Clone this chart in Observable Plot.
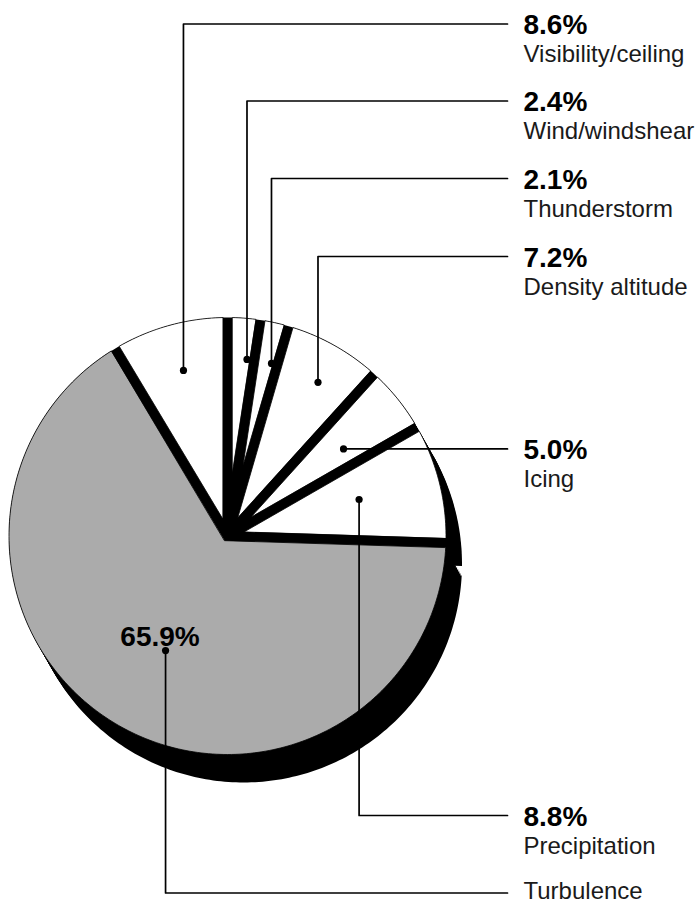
<!DOCTYPE html>
<html><head><meta charset="utf-8">
<script src="https://cdn.jsdelivr.net/npm/d3@7"></script>
<script src="https://cdn.jsdelivr.net/npm/@observablehq/plot@0.6"></script>
<style>
html,body{margin:0;padding:0;background:#fff;}
#chart{width:698px;height:903px;}
</style></head><body><div id="chart"></div>
<script>
// ---- data ----
const categories = ["Visibility/ceiling","Wind/windshear","Thunderstorm","Density altitude","Icing","Precipitation","Turbulence"];
const percents = [8.6, 2.4, 2.1, 7.2, 5.0, 8.8, 65.9];
const percentLabels = ["8.6%","2.4%","2.1%","7.2%","5.0%","8.8%","65.9%"];

// ---- layout / style ----
const W = 698, H = 903;
const CX = 227, CY = 535.5, R = 218.5, PAD = 9.5, SHADOW_DX = 16, SHADOW_DY = 28, SHADOW_STEPS = 14;
const sliceFills = ["#ffffff","#ffffff","#ffffff","#ffffff","#ffffff","#ffffff","#ababab"];
const rowY = [23.5, 100.5, 178, 256, null, 815, 892.5];      // label leader rows (null = follow dot)
const dotPolar = [[-14.9,0.784],[6.3,0.813],[14.3,0.815],[30.5,0.816],[53.1,0.664],[74.5,0.625],[208.4,0.596]];
const outsidePercent = [true,true,true,true,true,true,false];
const lineEndX = 507, textX = 523;
const FONT = "'Liberation Sans', Arial, Helvetica, sans-serif";

// ---- geometry from values ----
const total = d3.sum(percents);
const rad = d => d * Math.PI / 180;
const pt = (a, r, ox = 0, oy = 0) => ({x: CX + ox + r * Math.sin(a), y: CY + oy - r * Math.cos(a)});
let acc = -percents[0] / total * 2 * Math.PI;
const slices = categories.map((c, i) => { const a0 = acc; acc += percents[i] / total * 2 * Math.PI; return {c, i, a0, a1: acc}; });

function slicePoly(s, ox, oy, key) {
  const th = s.a1 - s.a0, h = PAD / 2, mid = (s.a0 + s.a1) / 2;
  const corner = pt(mid, h / Math.sin(th / 2), ox, oy);
  const d = Math.asin(h / R);
  const n = Math.max(8, Math.ceil((th - 2 * d) / rad(1)));
  const pts = [corner];
  for (let k = 0; k <= n; k++) pts.push(pt(s.a0 + d + (th - 2 * d) * k / n, R, ox, oy));
  return pts.map(p => ({...p, c: key, fill: sliceFills[s.i]}));
}
// extruded shadow: padded slices swept along the shadow offset
const shadowPts = d3.range(1, SHADOW_STEPS + 1).flatMap(k =>
  slices.flatMap(s => slicePoly(s, SHADOW_DX * k / SHADOW_STEPS, SHADOW_DY * k / SHADOW_STEPS, s.c + "|" + k)));
const slicePts = slices.flatMap(s => slicePoly(s, 0, 0, s.c));
const underlay = d3.range(0, 360, 1).map(a => pt(rad(a), R));

const dots = categories.map((c, i) => ({c, i, ...pt(rad(dotPolar[i][0]), dotPolar[i][1] * R)}));
const leaders = dots.flatMap(d => {
  const y = rowY[d.i];
  if (y == null) return [{c: d.c, x: d.x, y: d.y}, {c: d.c, x: lineEndX, y: d.y}];
  return [{c: d.c, x: d.x, y: d.y}, {c: d.c, x: d.x, y}, {c: d.c, x: lineEndX, y}];
});
const rows = dots.map(d => ({c: d.c, i: d.i, y: rowY[d.i] == null ? d.y : rowY[d.i]}));
const pctOut = rows.filter(r => outsidePercent[r.i]).map(r => ({t: percentLabels[r.i], x: textX, y: r.y + 10}));
const catText = rows.map(r => ({t: r.c, x: textX, y: outsidePercent[r.i] ? r.y + 38 : r.y + 6}));
const pctIn = dots.filter(d => !outsidePercent[d.i]).map(d => ({t: percentLabels[d.i], x: d.x - 5.5, y: d.y - 5}));

const chart = Plot.plot({
  width: W, height: H, margin: 0,
  x: {domain: [0, W], range: [0, W], axis: null},
  y: {domain: [0, H], range: [0, H], axis: null},
  color: {type: "identity"},
  style: {background: "#fff", overflow: "visible"},
  marks: [
    Plot.line(shadowPts, {x: "x", y: "y", z: "c", fill: "black", stroke: "none", curve: "linear-closed"}),
    Plot.line(underlay, {x: "x", y: "y", fill: "black", stroke: "none", curve: "linear-closed"}),
    Plot.line(slicePts, {x: "x", y: "y", z: "c", fill: "fill", stroke: "black", strokeWidth: 0.8, curve: "linear-closed"}),
    Plot.line(leaders, {x: "x", y: "y", z: "c", stroke: "black", strokeWidth: 1.7}),
    Plot.dot(dots, {x: "x", y: "y", r: 3.6, fill: "black", stroke: "none"}),
    Plot.text(pctOut, {x: "x", y: "y", text: "t", textAnchor: "start", lineAnchor: "bottom", fontSize: 28, fontWeight: "bold", fontFamily: FONT, fill: "black"}),
    Plot.text(catText, {x: "x", y: "y", text: "t", textAnchor: "start", lineAnchor: "bottom", fontSize: 24, fontFamily: FONT, fill: "#1a1a1a"}),
    Plot.text(pctIn, {x: "x", y: "y", text: "t", textAnchor: "middle", lineAnchor: "bottom", fontSize: 28, fontWeight: "bold", fontFamily: FONT, fill: "black"})
  ]
});
document.getElementById("chart").appendChild(chart);
</script></body></html>
